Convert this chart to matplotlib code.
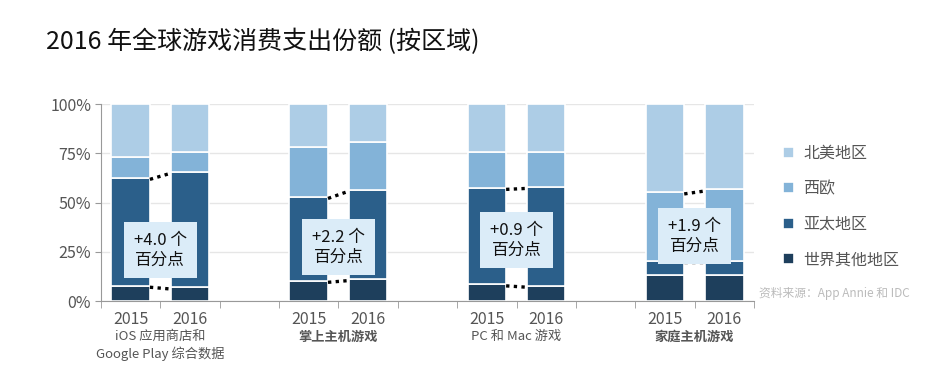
import numpy as np
import matplotlib.pyplot as plt

plt.rcParams['font.family'] = ['Noto Sans CJK SC', 'DejaVu Sans']

# data (share in %)
categories = ['iOS 应用商店和\nGoogle Play 综合数据', '掌上主机游戏', 'PC 和 Mac 游戏', '家庭主机游戏']
years = ['2015', '2016']
regions = ['世界其他地区', '亚太地区', '西欧', '北美地区']
rest_of_world = [7.8, 6.9, 10.3, 11.2, 8.5, 7.8, 13.0, 13.0]
asia_pacific = [54.8, 58.8, 42.6, 45.4, 49.0, 50.2, 7.5, 7.5]
west_europe = [10.7, 10.2, 25.4, 24.1, 18.3, 17.5, 34.7, 36.2]
north_america = [100 - a - b - c for a, b, c in zip(rest_of_world, asia_pacific, west_europe)]
change_labels = ['+4.0 个\n百分点', '+2.2 个\n百分点', '+0.9 个\n百分点', '+1.9 个\n百分点']
# which cumulative boundaries get the dotted connector in each group (index into stack)
connector_levels = [[1, 2], [1, 2], [1, 2], [2, 3]]
box_y = [25.9, 27.4, 31.0, 33.0]

colors = ['#1e3f5c', '#2b5f8a', '#83b3d8', '#adcde6']
gray = '#555555'

# slot positions: two bars per group, one empty slot between groups
positions = []
for g in range(len(categories)):
    positions += [3 * g, 3 * g + 1]
positions = np.array(positions)
width = 0.65

fig = plt.figure(figsize=(9.52, 3.68), dpi=100)
ax = fig.add_axes([0.106, 0.182, 0.686, 0.535])

stack = np.array([rest_of_world, asia_pacific, west_europe, north_america])
bottoms = np.zeros(len(positions))
for i, name in enumerate(regions):
    ax.bar(positions, stack[i], width, bottom=bottoms, color=colors[i],
           edgecolor='white', linewidth=1.2, label=name, zorder=2)
    bottoms += stack[i]
cum = np.cumsum(stack, axis=0)

# dotted connectors and change boxes
for g in range(len(categories)):
    x0 = positions[2 * g] + width / 2
    x1 = positions[2 * g + 1] - width / 2
    for lvl in connector_levels[g]:
        ax.plot([x0, x1], [cum[lvl - 1][2 * g] - 0.8, cum[lvl - 1][2 * g + 1] - 0.8],
                color='black', linestyle=(0, (1, 1.3)), linewidth=2.4,
                solid_capstyle='butt', zorder=3)
    ax.text(positions[2 * g] + 0.5, box_y[g], change_labels[g], ha='center', va='center',
            fontsize=12, color='#111111', linespacing=1.2, zorder=4,
            bbox=dict(boxstyle='square,pad=0.6', facecolor='#dbecf8', edgecolor='none'))

ax.set_xlim(-0.5, 10.5)
ax.set_ylim(0, 100)
ax.set_yticks([0, 25, 50, 75, 100])
ax.set_yticklabels(['0%', '25%', '50%', '75%', '100%'])
ax.yaxis.grid(True, color='#e6e6e6', linewidth=1, zorder=0)
ax.set_axisbelow(True)

ax.set_xticks(positions)
ax.set_xticklabels(years * len(categories))
ax.set_xticks(np.arange(-0.5, 11, 1), minor=True)
ax.tick_params(axis='x', which='major', length=0, pad=7, labelsize=11.5, labelcolor=gray)
ax.tick_params(axis='x', which='minor', length=5, color='#999999')
ax.tick_params(axis='y', length=4, color='#999999', labelsize=11.5, labelcolor=gray, pad=3)

for side in ['top', 'right']:
    ax.spines[side].set_visible(False)
for side in ['left', 'bottom']:
    ax.spines[side].set_color('#999999')

for g, cat in enumerate(categories):
    bold = cat in ('掌上主机游戏', '家庭主机游戏')
    ax.text(3 * g + 0.5, -0.145, cat, ha='center', va='top', fontsize=9.5,
            color=gray, fontweight='bold' if bold else 'normal',
            linespacing=1.3, transform=ax.get_xaxis_transform())

handles, labels = ax.get_legend_handles_labels()
fig.legend(handles[::-1], labels[::-1], loc='upper left', bbox_to_anchor=(0.807, 0.645),
           frameon=False, fontsize=11.5, labelcolor=gray, handlelength=0.7, handleheight=0.7,
           handletextpad=0.6, labelspacing=1.15)

fig.text(0.048, 0.885, '2016 年全球游戏消费支出份额 (按区域)', fontsize=18,
         color='#111111', ha='left', va='center')
fig.text(0.797, 0.203, '资料来源：App Annie 和 IDC', fontsize=8.5, color='#bbbbbb',
         ha='left', va='center')

fig.savefig('out.png', dpi=100)
